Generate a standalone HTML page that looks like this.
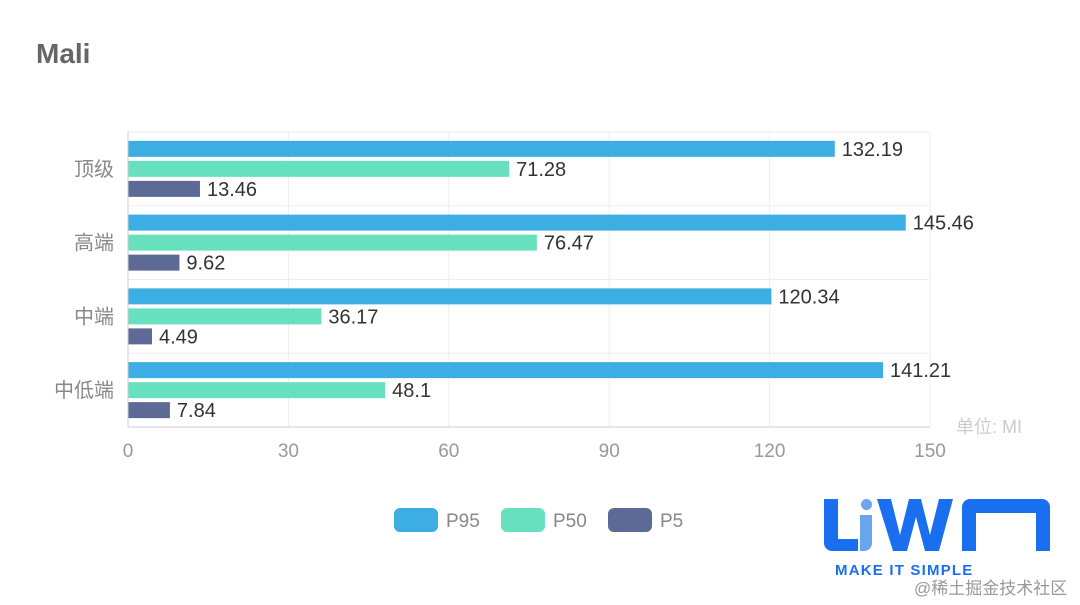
<!DOCTYPE html>
<html><head><meta charset="utf-8"><style>
html,body{margin:0;padding:0;background:#fff;width:1080px;height:605px;overflow:hidden}
svg{display:block;font-family:"Liberation Sans","Noto Sans CJK SC",sans-serif}
</style></head><body>
<svg id="c" width="1080" height="605" viewBox="0 0 1080 605">
<text x="36" y="63" font-size="28" font-weight="bold" fill="#666">Mali</text>
<g id="grid"></g>
<g id="bars"></g>
<g id="axes"></g>
<text x="956" y="433" font-size="18" fill="#ccc">单位: MI</text>
<g id="legend"></g>
<g>
<path d="M824 499h14v40h20v12h-26a8 8 0 0 1-8-8z" fill="#1a6ff0"/>
<rect x="861" y="499" width="11" height="11" rx="5.5" fill="#6aa6f0"/>
<path d="M860 515h12v28a8 8 0 0 1-8 8h-4z" fill="#6aa6f0"/>
<path d="M877 499h14l9 36 9-36h12l9 36 9-36h14l-14 52h-14l-9-34-9 34h-14z" fill="#1a6ff0"/>
<path d="M962 551v-44a8 8 0 0 1 8-8h72a8 8 0 0 1 8 8v44h-14v-38h-60v38z" fill="#1a6ff0"/>
<text x="835" y="575" font-size="15" font-weight="bold" fill="#1a6ff0" letter-spacing="1.2">MAKE IT SIMPLE</text>
</g>
<text x="914" y="594" font-size="17" fill="#999">@稀土掘金技术社区</text>
</svg>
<script>
const categories=["顶级","高端","中端","中低端"];
const p95=[132.19,145.46,120.34,141.21];
const p50=[71.28,76.47,36.17,48.1];
const p5=[13.46,9.62,4.49,7.84];
const xTicks=[0,30,60,90,120,150];
const seriesNames=["P95","P50","P5"];
const colors=["#3daee3","#67e0bf","#5e6a96"];
const NS="http://www.w3.org/2000/svg";
const X0=128,X1=930,Y0=132,Y1=427,XMAX=150;
const xs=v=>X0+v/XMAX*(X1-X0);
const band=(Y1-Y0)/categories.length;
function mk(t,a,p,txt){const e=document.createElementNS(NS,t);for(const k in a)e.setAttribute(k,a[k]);if(txt!==undefined)e.textContent=txt;p.appendChild(e);return e;}
const grid=document.getElementById('grid'),bars=document.getElementById('bars'),axes=document.getElementById('axes'),leg=document.getElementById('legend');
xTicks.forEach(t=>{
 const l=mk('line',{x1:xs(t),x2:xs(t),y1:Y0,y2:Y1,stroke:'#eee'},grid);
 
 
 const tx=mk('text',{x:xs(t),y:Y1+30,'font-size':19,fill:'#999','text-anchor':'middle'},axes,String(t));
 
 
});
for(let i=0;i<=categories.length;i++){
 const l=mk('line',{x1:X0,x2:X1,y1:Y0+i*band,y2:Y0+i*band,stroke:'#eee'},grid);
 
 
}
const ax=mk('line',{x1:X0,x2:X0,y1:Y0,y2:Y1,stroke:'#ccc'},axes);


const bx=mk('line',{x1:X0,x2:X1,y1:Y1,y2:Y1,stroke:'#ccc'},axes);


const series=[p95,p50,p5];
categories.forEach((c,i)=>{
 const cy=Y0+band*(i+0.5);
 const lb=mk('text',{x:114,y:cy+7,'font-size':20,fill:'#888','text-anchor':'end'},axes,c);
 
 
 series.forEach((s,j)=>{
  const by=cy+(j-1)*20-8;
  const r=mk('rect',{x:X0,y:by,width:xs(s[i])-X0,height:16,fill:colors[j]},bars);
  
  
  const v=mk('text',{x:xs(s[i])+7,y:by+15,'font-size':20,fill:'#333'},bars,String(s[i]));
  
  
 });
});
const lx=[394,501,608];
seriesNames.forEach((n,j)=>{
 const g=mk('g',{},leg);
 
 
 mk('rect',{x:lx[j],y:508,width:44,height:24,rx:6,fill:colors[j]},g);
 mk('text',{x:lx[j]+52,y:527,'font-size':19,fill:'#888'},g,n);
});
</script>
</body></html>
